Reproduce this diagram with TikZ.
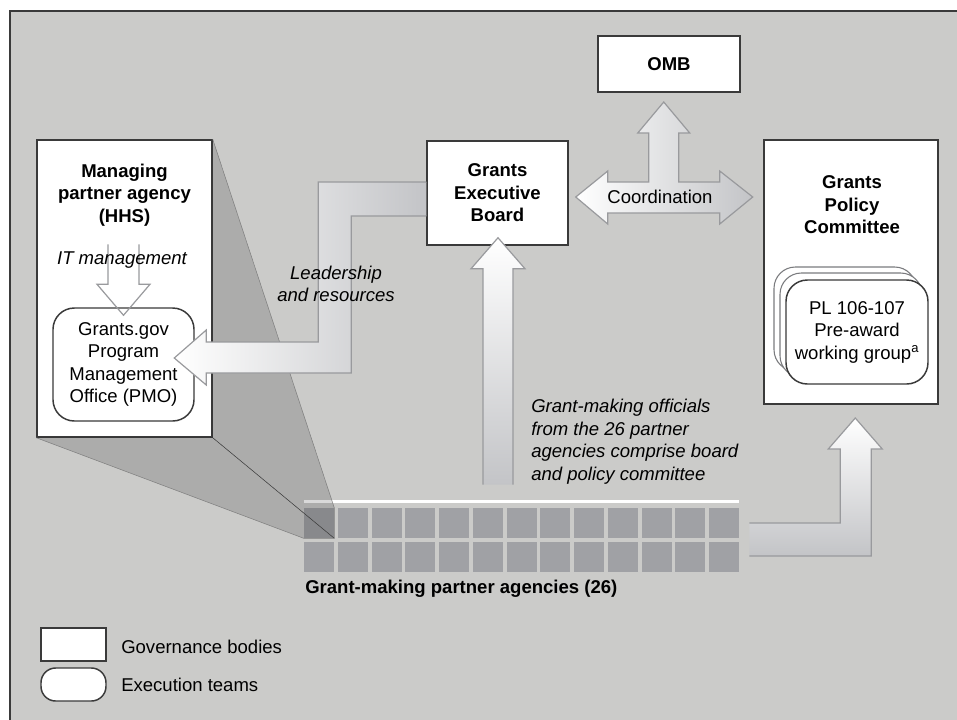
\documentclass[tikz,border=0pt]{standalone}
\usepackage{fontspec}
\setmainfont{Liberation Sans}
\definecolor{bggray}{HTML}{CBCBC9}
\definecolor{cellgray}{HTML}{A0A1A5}
\definecolor{edgegray}{HTML}{999A9D}
\definecolor{fadegray}{HTML}{C3C4C7}
\definecolor{boxline}{HTML}{3A3A3A}
\newcommand\diagfont{\fontsize{13.9}{16.9}\selectfont}

\begin{document}
\begin{tikzpicture}[x=0.75pt,y=-0.75pt,font=\diagfont,
  govbox/.style={draw=boxline,line width=1.1pt,fill=white,align=center,inner sep=0pt,font=\diagfont\bfseries},
  teambox/.style={govbox,rounded corners=16pt,font=\diagfont},
  backbox/.style={teambox,draw=edgegray!80!black,line width=0.8pt,minimum width=106.5pt,minimum height=78pt},
  cell/.style={fill=cellgray,minimum size=22.5pt,inner sep=0pt},
  bigarrow/.style={draw=edgegray,line width=0.9pt},
  txt/.style={inner sep=0pt,align=center},
  heading/.style={txt,font=\diagfont\bfseries},
  remark/.style={txt,font=\diagfont\itshape}]

% frame
\path[use as bounding box,fill=white] (0,0) rectangle (957,719);
\filldraw[fill=bggray,draw=boxline,line width=1.1pt] (10,11) rectangle (975,735);

% partner agencies
\foreach \r in {1,2}
  \foreach \i in {1,...,13}
    \node[cell] (c-\r-\i) at (285.25+33.75*\i,489+34*\r) {};
\draw[white,line width=1.9pt] ([shift={(0,-6.5)}]c-1-1.north west) -- ([shift={(0,-6.5)}]c-1-13.north east);
\node[heading,anchor=west] (agencies) at (305,589) {Grant-making partner agencies (26)};

% managing agency, blown up from the first agency
\node[govbox,minimum width=131.25pt,minimum height=222.75pt] (mgr) at (124.5,288.5) {};
\fill[black,opacity=0.15] (mgr.north east) -- (c-1-1.north east) -- (c-1-1.south east)
  -- (c-1-1.south west) -- (mgr.south west) -- (mgr.south east) -- cycle;
\draw[gray,thin] (mgr.north east) -- (c-1-1.north east) -- (c-1-1.south east) -- (c-1-1.south west)
  -- (mgr.south west);
\draw[boxline,thin] (mgr.south east) -- (c-1-1.south east);
\node[heading] (mgrtitle) at (124.5,195) {Managing\\partner agency\\(HHS)};
\node[teambox,minimum width=105.75pt,minimum height=84.75pt] (pmo) at (123.5,364.5) {Grants.gov\\Program\\Management\\Office (PMO)};

% governance bodies
\node[govbox,minimum width=105.75pt,minimum height=78pt] (board) at (497.5,193) {Grants\\Executive\\Board};
\node[govbox,minimum width=106.5pt,minimum height=42pt] (omb) at (669,64) {OMB};
\node[govbox,minimum width=130.5pt,minimum height=198pt] (policy) at (851,272) {};
\node[heading] (policytitle) at (852,205) {Grants\\Policy\\Committee};
\node[backbox] (wg3) at (845,319) {};
\node[backbox] (wg2) at (851,325) {};
\node[teambox,minimum width=106.5pt,minimum height=78pt] (wg) at (857,332) {PL 106-107\\Pre-award\\working group\textsuperscript{a}};

% IT management
\draw[edgegray,line width=0.9pt] ([shift={(-15.5,-63)}]pmo.north) -- ++(0,40) -- ++(-11,0)
  -- ++(26.5,31) -- ++(26.5,-31) -- ++(-11,0) -- ++(0,-40);
\node[remark] (itlabel) at (122,260) {IT management};

% leadership and resources
\draw[bigarrow,left color=white,right color=fadegray] ([shift={(0,23)}]board.west) -- ++(-75,0)
  -- ++(0,157) -- ++(-145,0) -- ++(0,12) -- ++(-32,-27) -- ++(32,-28) -- ++(0,12)
  -- ++(112,0) -- ++(0,-160) -- ++(108,0);
\node[remark] (lead) at (336,284) {Leadership\\and resources};

% officials up to the board
\draw[bigarrow,top color=white,bottom color=fadegray] ([shift={(-14.5,239)}]board.south) -- ++(0,-216)
  -- ++(-12,0) -- ++(27,-31) -- ++(27,31) -- ++(-12,0) -- ++(0,216);
\node[remark,anchor=west,align=left] (officials) at (531,441.5) {Grant-making officials\\from the 26 partner\\agencies comprise board\\and policy committee};

% coordination
\draw[bigarrow,left color=white,right color=fadegray] ([shift={(7,4)}]board.east) -- ++(32,-26)
  -- ++(0,11) -- ++(41,0) -- ++(0,-49) -- ++(-11,0) -- ++(26,-31) -- ++(26,31) -- ++(-11,0)
  -- ++(0,49) -- ++(41,0) -- ++(0,-11) -- ++(33,26) -- ++(-33,27) -- ++(0,-11) -- ++(-112,0)
  -- ++(0,11) -- cycle;
\node[txt] (coord) at (660,197) {Coordination};

% agencies to policy committee
\draw[bigarrow,top color=white,bottom color=fadegray] ([shift={(10,0)}]c-1-13.east) -- ++(91,0)
  -- ++(0,-74) -- ++(-12,0) -- ++(27,-31) -- ++(27,31) -- ++(-11,0) -- ++(0,107) -- ++(-122,0);

% legend
\node[govbox,minimum width=48.75pt,minimum height=24.75pt] (govkey) at (73.5,644.5) {};
\node[teambox,rounded corners=11pt,minimum width=48.75pt,minimum height=24.75pt] (teamkey) at (73.5,684.5) {};
\node[txt,anchor=west] (govtext) at (121,647) {Governance bodies};
\node[txt,anchor=west] (teamtext) at (121,685) {Execution teams};
\end{tikzpicture}
\end{document}
